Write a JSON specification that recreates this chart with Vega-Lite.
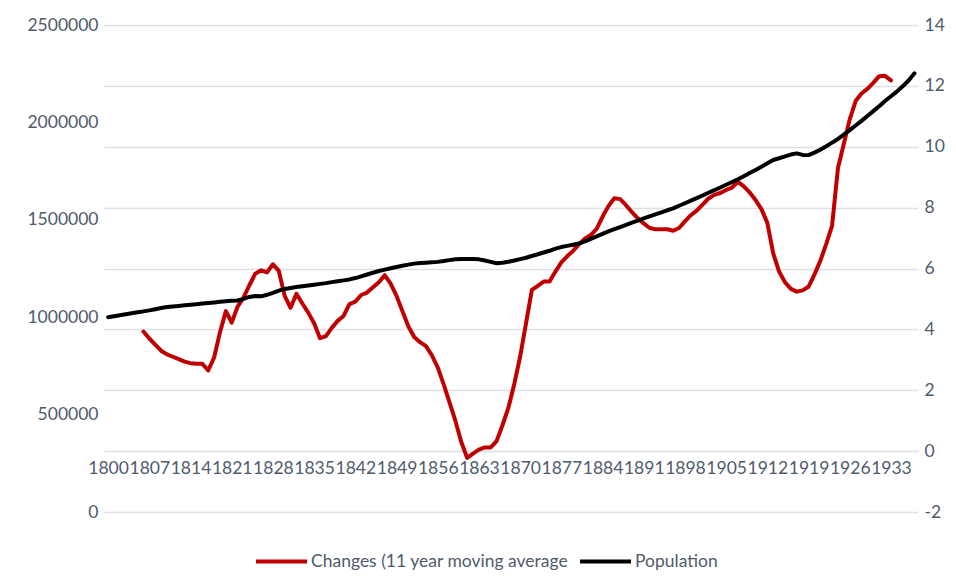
{
  "$schema": "https://vega.github.io/schema/vega-lite/v6.json",
  "autosize": {"type": "none"},
  "width": 814,
  "height": 487,
  "padding": {"left": 104, "top": 25, "right": 38, "bottom": 66},
  "background": "white",
  "config": {
    "view": {"stroke": null},
    "font": "Lato",
    "axis": {"labelFont": "Lato", "labelFontSize": 17.5, "labelColor": "#4f5b6d", "domain": false, "ticks": false},
    "legend": {"labelFont": "Lato", "labelFontSize": 17.5, "labelColor": "#4f5b6d"}
  },
  "data": {"values": [
    {"year": 1800, "population": 1000000, "changes": null},
    {"year": 1801, "population": 1005000, "changes": null},
    {"year": 1802, "population": 1010000, "changes": null},
    {"year": 1803, "population": 1015000, "changes": null},
    {"year": 1804, "population": 1020000, "changes": null},
    {"year": 1805, "population": 1025000, "changes": null},
    {"year": 1806, "population": 1030000, "changes": 3.93},
    {"year": 1807, "population": 1035000, "changes": 3.70},
    {"year": 1808, "population": 1041000, "changes": 3.50},
    {"year": 1809, "population": 1047000, "changes": 3.30},
    {"year": 1810, "population": 1052000, "changes": 3.18},
    {"year": 1811, "population": 1055000, "changes": 3.10},
    {"year": 1812, "population": 1058000, "changes": 3.02},
    {"year": 1813, "population": 1061000, "changes": 2.94},
    {"year": 1814, "population": 1064000, "changes": 2.89},
    {"year": 1815, "population": 1067000, "changes": 2.87},
    {"year": 1816, "population": 1070000, "changes": 2.87},
    {"year": 1817, "population": 1073000, "changes": 2.65},
    {"year": 1818, "population": 1076000, "changes": 3.07},
    {"year": 1819, "population": 1079000, "changes": 3.90},
    {"year": 1820, "population": 1082000, "changes": 4.60},
    {"year": 1821, "population": 1084000, "changes": 4.22},
    {"year": 1822, "population": 1086000, "changes": 4.75},
    {"year": 1823, "population": 1094000, "changes": 5.04},
    {"year": 1824, "population": 1104000, "changes": 5.45},
    {"year": 1825, "population": 1109000, "changes": 5.83},
    {"year": 1826, "population": 1107000, "changes": 5.94},
    {"year": 1827, "population": 1115000, "changes": 5.87},
    {"year": 1828, "population": 1125000, "changes": 6.14},
    {"year": 1829, "population": 1136000, "changes": 5.92},
    {"year": 1830, "population": 1145000, "changes": 5.10},
    {"year": 1831, "population": 1150000, "changes": 4.71},
    {"year": 1832, "population": 1155000, "changes": 5.17},
    {"year": 1833, "population": 1159000, "changes": 4.85},
    {"year": 1834, "population": 1163000, "changes": 4.55},
    {"year": 1835, "population": 1167000, "changes": 4.20},
    {"year": 1836, "population": 1171000, "changes": 3.71},
    {"year": 1837, "population": 1175000, "changes": 3.78},
    {"year": 1838, "population": 1180000, "changes": 4.05},
    {"year": 1839, "population": 1185000, "changes": 4.28},
    {"year": 1840, "population": 1189000, "changes": 4.44},
    {"year": 1841, "population": 1194000, "changes": 4.83},
    {"year": 1842, "population": 1201000, "changes": 4.91},
    {"year": 1843, "population": 1210000, "changes": 5.13},
    {"year": 1844, "population": 1219000, "changes": 5.21},
    {"year": 1845, "population": 1228000, "changes": 5.38},
    {"year": 1846, "population": 1237000, "changes": 5.55},
    {"year": 1847, "population": 1244000, "changes": 5.78},
    {"year": 1848, "population": 1251000, "changes": 5.50},
    {"year": 1849, "population": 1258000, "changes": 5.10},
    {"year": 1850, "population": 1264000, "changes": 4.60},
    {"year": 1851, "population": 1270000, "changes": 4.10},
    {"year": 1852, "population": 1275000, "changes": 3.75},
    {"year": 1853, "population": 1278000, "changes": 3.58},
    {"year": 1854, "population": 1280000, "changes": 3.45},
    {"year": 1855, "population": 1282000, "changes": 3.15},
    {"year": 1856, "population": 1284000, "changes": 2.75},
    {"year": 1857, "population": 1288000, "changes": 2.20},
    {"year": 1858, "population": 1293000, "changes": 1.60},
    {"year": 1859, "population": 1297000, "changes": 1.00},
    {"year": 1860, "population": 1299000, "changes": 0.30},
    {"year": 1861, "population": 1299000, "changes": -0.22},
    {"year": 1862, "population": 1299000, "changes": -0.08},
    {"year": 1863, "population": 1297000, "changes": 0.05},
    {"year": 1864, "population": 1291000, "changes": 0.12},
    {"year": 1865, "population": 1284000, "changes": 0.12},
    {"year": 1866, "population": 1277000, "changes": 0.33},
    {"year": 1867, "population": 1280000, "changes": 0.85},
    {"year": 1868, "population": 1285000, "changes": 1.42},
    {"year": 1869, "population": 1291000, "changes": 2.20},
    {"year": 1870, "population": 1298000, "changes": 3.10},
    {"year": 1871, "population": 1305000, "changes": 4.20},
    {"year": 1872, "population": 1314000, "changes": 5.30},
    {"year": 1873, "population": 1323000, "changes": 5.43},
    {"year": 1874, "population": 1332000, "changes": 5.57},
    {"year": 1875, "population": 1341000, "changes": 5.57},
    {"year": 1876, "population": 1352000, "changes": 5.90},
    {"year": 1877, "population": 1360000, "changes": 6.20},
    {"year": 1878, "population": 1366000, "changes": 6.40},
    {"year": 1879, "population": 1372000, "changes": 6.58},
    {"year": 1880, "population": 1378000, "changes": 6.80},
    {"year": 1881, "population": 1389000, "changes": 6.98},
    {"year": 1882, "population": 1402000, "changes": 7.10},
    {"year": 1883, "population": 1415000, "changes": 7.30},
    {"year": 1884, "population": 1428000, "changes": 7.70},
    {"year": 1885, "population": 1441000, "changes": 8.05},
    {"year": 1886, "population": 1452000, "changes": 8.31},
    {"year": 1887, "population": 1463000, "changes": 8.28},
    {"year": 1888, "population": 1474000, "changes": 8.08},
    {"year": 1889, "population": 1486000, "changes": 7.85},
    {"year": 1890, "population": 1496000, "changes": 7.65},
    {"year": 1891, "population": 1507000, "changes": 7.48},
    {"year": 1892, "population": 1518000, "changes": 7.33},
    {"year": 1893, "population": 1528000, "changes": 7.29},
    {"year": 1894, "population": 1538000, "changes": 7.29},
    {"year": 1895, "population": 1549000, "changes": 7.29},
    {"year": 1896, "population": 1559000, "changes": 7.24},
    {"year": 1897, "population": 1572000, "changes": 7.33},
    {"year": 1898, "population": 1585000, "changes": 7.55},
    {"year": 1899, "population": 1598000, "changes": 7.75},
    {"year": 1900, "population": 1611000, "changes": 7.90},
    {"year": 1901, "population": 1625000, "changes": 8.10},
    {"year": 1902, "population": 1639000, "changes": 8.30},
    {"year": 1903, "population": 1652000, "changes": 8.42},
    {"year": 1904, "population": 1666000, "changes": 8.48},
    {"year": 1905, "population": 1680000, "changes": 8.58},
    {"year": 1906, "population": 1694000, "changes": 8.66},
    {"year": 1907, "population": 1708000, "changes": 8.85},
    {"year": 1908, "population": 1724000, "changes": 8.70},
    {"year": 1909, "population": 1740000, "changes": 8.50},
    {"year": 1910, "population": 1756000, "changes": 8.25},
    {"year": 1911, "population": 1772000, "changes": 7.95},
    {"year": 1912, "population": 1790000, "changes": 7.50},
    {"year": 1913, "population": 1807000, "changes": 6.50},
    {"year": 1914, "population": 1816000, "changes": 5.90},
    {"year": 1915, "population": 1826000, "changes": 5.55},
    {"year": 1916, "population": 1835000, "changes": 5.33},
    {"year": 1917, "population": 1841000, "changes": 5.24},
    {"year": 1918, "population": 1833000, "changes": 5.28},
    {"year": 1919, "population": 1832000, "changes": 5.40},
    {"year": 1920, "population": 1845000, "changes": 5.80},
    {"year": 1921, "population": 1860000, "changes": 6.25},
    {"year": 1922, "population": 1877000, "changes": 6.80},
    {"year": 1923, "population": 1896000, "changes": 7.40},
    {"year": 1924, "population": 1915000, "changes": 9.30},
    {"year": 1925, "population": 1937000, "changes": 10.10},
    {"year": 1926, "population": 1960000, "changes": 10.90},
    {"year": 1927, "population": 1984000, "changes": 11.50},
    {"year": 1928, "population": 2008000, "changes": 11.75},
    {"year": 1929, "population": 2033000, "changes": 11.90},
    {"year": 1930, "population": 2058000, "changes": 12.10},
    {"year": 1931, "population": 2083000, "changes": 12.32},
    {"year": 1932, "population": 2110000, "changes": 12.33},
    {"year": 1933, "population": 2134000, "changes": 12.18},
    {"year": 1934, "population": 2158000, "changes": null},
    {"year": 1935, "population": 2185000, "changes": null},
    {"year": 1936, "population": 2215000, "changes": null},
    {"year": 1937, "population": 2252000, "changes": null}
  ]},
  "encoding": {
    "x": {
      "field": "year",
      "type": "quantitative",
      "scale": {"domain": [1799.3, 1937.6], "nice": false, "zero": false},
      "axis": {
        "title": null,
        "values": [1800, 1807, 1814, 1821, 1828, 1835, 1842, 1849, 1856, 1863, 1870, 1877, 1884, 1891, 1898, 1905, 1912, 1919, 1926, 1933],
        "format": "d",
        "grid": false,
        "labelOverlap": false,
        "labelFlush": false,
        "offset": -62,
        "labelPadding": 9
      }
    }
  },
  "layer": [
    {
      "mark": {"type": "line", "strokeWidth": 4, "strokeCap": "round", "strokeJoin": "round"},
      "encoding": {
        "y": {
          "field": "changes",
          "type": "quantitative",
          "scale": {"domain": [-2, 14], "nice": false, "zero": false},
          "axis": {
            "orient": "right",
            "title": null,
            "values": [-2, 0, 2, 4, 6, 8, 10, 12, 14],
            "labelExpr": "'' + datum.value",
            "grid": true,
            "gridColor": "#dde1e7",
            "gridWidth": 1.5,
            "labelPadding": 6
          }
        },
        "color": {
          "datum": "Changes (11 year moving average",
          "type": "nominal",
          "scale": {"domain": ["Changes (11 year moving average", "Population"], "range": ["#c00000", "#000000"]},
          "legend": {
            "title": null,
            "orient": "none",
            "direction": "horizontal",
            "legendX": 150,
            "legendY": 509,
            "symbolType": "stroke",
            "symbolSize": 2600,
            "symbolStrokeWidth": 4,
            "labelOffset": 2,
            "labelLimit": 500,
            "columnPadding": 3
          }
        }
      }
    },
    {
      "mark": {"type": "line", "strokeWidth": 4, "strokeCap": "round", "strokeJoin": "round"},
      "encoding": {
        "y": {
          "field": "population",
          "type": "quantitative",
          "scale": {"domain": [0, 2500000], "nice": false},
          "axis": {
            "orient": "left",
            "title": null,
            "values": [0, 500000, 1000000, 1500000, 2000000, 2500000],
            "format": "d",
            "grid": false,
            "labelPadding": 6
          }
        },
        "color": {"datum": "Population", "type": "nominal"}
      }
    }
  ],
  "resolve": {"scale": {"y": "independent"}, "axis": {"y": "independent"}}
}
